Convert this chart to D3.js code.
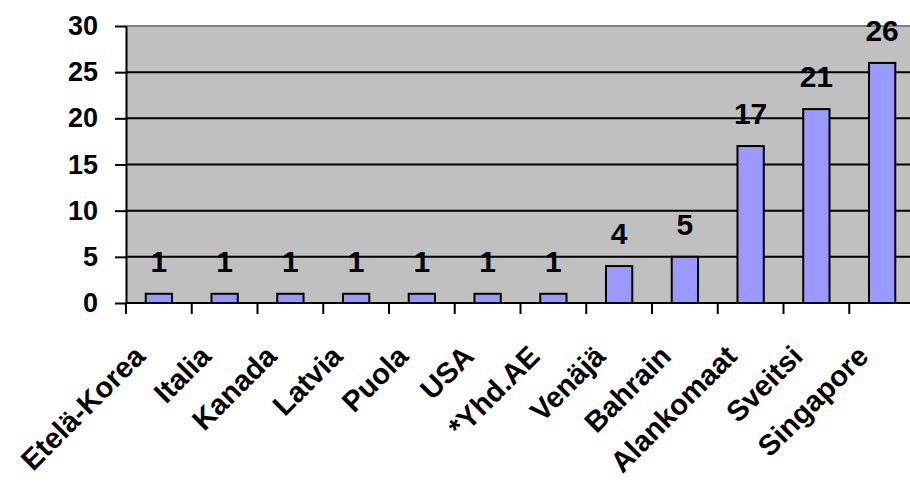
<!DOCTYPE html>
<html>
<head>
<meta charset="utf-8">
<script src="https://cdn.jsdelivr.net/npm/d3@7"></script>
<style>
  html, body { margin: 0; padding: 0; background: #fff; }
  svg { display: block; }
  text { font-family: "Liberation Sans", Arial, sans-serif; font-weight: bold; fill: #000; }
</style>
</head>
<body>
<svg id="chart" width="910" height="482"></svg>
<script>
// Countries and their counts
const categories = ["Etelä-Korea", "Italia", "Kanada", "Latvia", "Puola", "USA", "*Yhd.AE",
                    "Venäjä", "Bahrain", "Alankomaat", "Sveitsi", "Singapore"];
const values = [1, 1, 1, 1, 1, 1, 1, 4, 5, 17, 21, 26];
const yTicks = [0, 5, 10, 15, 20, 25, 30];

const svg = d3.select("#chart");
const plot = { left: 126, top: 26, right: 915, bottom: 303 };

const x = d3.scaleBand().domain(categories).range([plot.left, plot.right]).padding(0);
const y = d3.scaleLinear().domain([0, 30]).range([plot.bottom, plot.top]);

// Plot background
svg.append("rect")
  .attr("x", plot.left).attr("y", plot.top)
  .attr("width", plot.right - plot.left).attr("height", plot.bottom - plot.top)
  .attr("fill", "#C0C0C0");

// Top border of the plot area
svg.append("line")
  .attr("x1", plot.left).attr("x2", plot.right)
  .attr("y1", plot.top).attr("y2", plot.top)
  .attr("stroke", "#808080").attr("stroke-width", 2);

// Horizontal gridlines
svg.append("g").selectAll("line")
  .data(yTicks.filter(d => d > 0 && d < 30))
  .join("line")
  .attr("x1", plot.left).attr("x2", plot.right)
  .attr("y1", d => y(d)).attr("y2", d => y(d))
  .attr("stroke", "#000").attr("stroke-width", 2);

// Bars
const bw = x.bandwidth() * 0.4;
svg.append("g").selectAll("rect")
  .data(values)
  .join("rect")
  .attr("x", (d, i) => x(categories[i]) + (x.bandwidth() - bw) / 2)
  .attr("y", d => y(d))
  .attr("width", bw)
  .attr("height", d => y(0) - y(d))
  .attr("fill", "#9999FF")
  .attr("stroke", "#000")
  .attr("stroke-width", 2);

// Value labels
svg.append("g").selectAll("text")
  .data(values)
  .join("text")
  .attr("x", (d, i) => x(categories[i]) + x.bandwidth() / 2)
  .attr("y", d => y(d) - 22)
  .attr("text-anchor", "middle")
  .style("font-size", "30px")
  .text(d => d);

// Y axis
const yAxis = svg.append("g")
  .attr("transform", `translate(${plot.left},0)`)
  .call(d3.axisLeft(y).tickValues(yTicks).tickSize(11).tickSizeOuter(0).tickPadding(17));
yAxis.select(".domain").attr("stroke", "#000").attr("stroke-width", 2);
yAxis.selectAll(".tick line").attr("stroke", "#000").attr("stroke-width", 2);
yAxis.selectAll(".tick text")
  .style("font-size", "27px")
  .style("font-family", "'Liberation Sans', Arial, sans-serif")
  .style("font-weight", "bold")
  .attr("fill", "#000");

// X axis baseline with ticks at category boundaries
svg.append("line")
  .attr("x1", plot.left).attr("x2", plot.right)
  .attr("y1", plot.bottom).attr("y2", plot.bottom)
  .attr("stroke", "#000").attr("stroke-width", 2);
svg.append("g").selectAll("line")
  .data(categories)
  .join("line")
  .attr("x1", d => x(d)).attr("x2", d => x(d))
  .attr("y1", plot.bottom).attr("y2", plot.bottom + 11)
  .attr("stroke", "#000").attr("stroke-width", 2);

// Rotated category labels
svg.append("g").selectAll("text")
  .data(categories)
  .join("text")
  .attr("transform", d => `translate(${x(d) + x.bandwidth() / 2 - 12},${plot.bottom + 55}) rotate(-45)`)
  .attr("text-anchor", "end")
  .style("font-size", "29px")
  .text(d => d);
</script>
</body>
</html>
